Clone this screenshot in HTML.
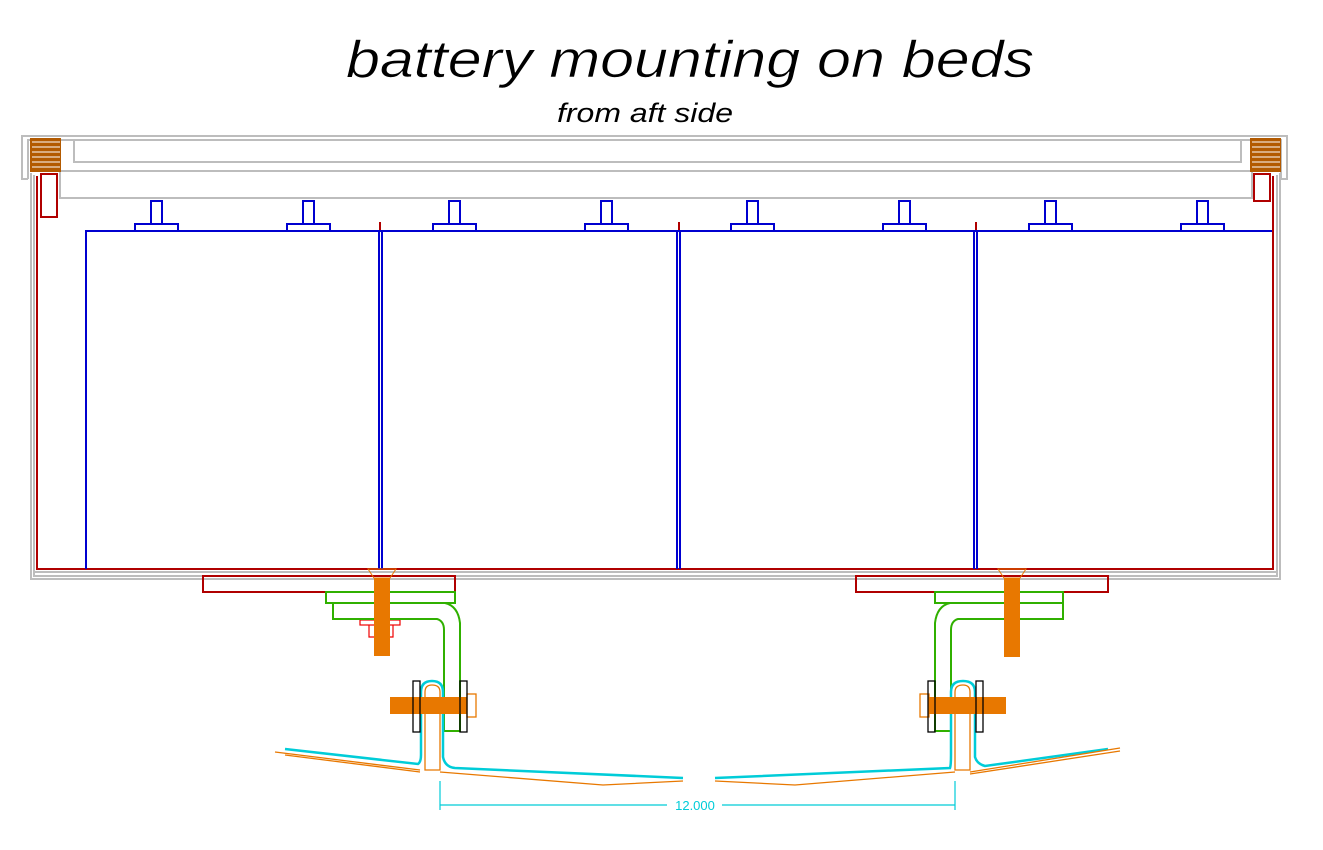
<!DOCTYPE html>
<html><head><meta charset="utf-8"><style>
html,body{margin:0;padding:0;background:#fff;width:1323px;height:850px;overflow:hidden}
svg{display:block}
</style></head><body>
<svg width="1323" height="850" viewBox="0 0 1323 850" xmlns="http://www.w3.org/2000/svg">
<text x="346" y="77" textLength="688" lengthAdjust="spacingAndGlyphs" font-family="Liberation Sans, sans-serif" font-style="italic" font-size="52" fill="#000" stroke="#fff" stroke-width="0.6">battery mounting on beds</text>
<text x="557" y="122" textLength="176" lengthAdjust="spacingAndGlyphs" font-family="Liberation Sans, sans-serif" font-style="italic" font-size="27" fill="#000">from aft side</text>

<g fill="none" stroke="#bdbdbd" stroke-width="2">
<path d="M28,179 H22 V136 H1287 V179 H1280"/>
<path d="M28,179 V140 H1281 V179"/>
<rect x="74" y="140" width="1167" height="22"/>
<line x1="60" y1="171" x2="1252" y2="171"/>
<path d="M60,171 V198 H1252 V171"/>
<path d="M31,173 V579 H1280 V173"/>
<path d="M34,175 V576 H1277 V175"/>
<line x1="34" y1="572" x2="1277" y2="572"/>
</g>

<g fill="#b35a00">
<rect x="30" y="138" width="31" height="34"/>
<rect x="1250" y="138" width="31" height="34"/>
</g>
<g stroke="#fff" stroke-width="1">
<path d="M32,142H60M32,147H60M32,152H60M32,157H60M32,162H60M32,167H60"/>
<path d="M1252,142H1280M1252,147H1280M1252,152H1280M1252,157H1280M1252,162H1280M1252,167H1280"/>
</g>

<g fill="none" stroke="#b00000" stroke-width="2">
<rect x="41" y="174" width="16" height="43"/>
<rect x="1254" y="174" width="16" height="27"/>
<path d="M37,176 V569 H1273 V176"/>
<line x1="380" y1="222" x2="380" y2="232"/>
<line x1="679" y1="222" x2="679" y2="232"/>
<line x1="976" y1="222" x2="976" y2="232"/>
</g>

<g fill="none" stroke="#0000d0" stroke-width="2">
<path d="M86,569 V231 H1272"/>
<path d="M379,231 V569 M382,231 V569 M677,231 V569 M680,231 V569 M974,231 V569 M977,231 V569"/>
<g id="t"><rect x="135" y="224" width="43" height="7"/><rect x="151" y="201" width="11" height="23"/></g>
<use href="#t" x="152"/><use href="#t" x="298"/><use href="#t" x="450"/>
<use href="#t" x="596"/><use href="#t" x="748"/><use href="#t" x="894"/><use href="#t" x="1046"/>
</g>

<!-- left bed -->
<g fill="none" stroke="#b00000" stroke-width="2">
<rect x="203" y="576" width="252" height="16"/>
<rect x="360" y="620" width="40" height="5" stroke="#f00000" stroke-width="1.2"/>
<path d="M369,625 V637 H393 V625" stroke="#f00000" stroke-width="1.2"/>
</g>
<g fill="none" stroke="#30b000" stroke-width="2">
<rect x="326" y="592" width="129" height="11"/>
<path d="M333,603 V619 H437 Q444,621 444,630 V731 H460 V623 Q458,606 445,603"/>
</g>
<rect x="374" y="578" width="16" height="78" fill="#e87800"/>
<path d="M368,569 L396,569 L390,578 L374,578 Z" fill="none" stroke="#e87800" stroke-width="1"/>

<!-- right bed -->
<g fill="none" stroke="#b00000" stroke-width="2"><rect x="856" y="576" width="252" height="16"/></g>
<g fill="none" stroke="#30b000" stroke-width="2">
<rect x="935" y="592" width="128" height="11"/>
<path d="M1063,603 V619 H958 Q951,621 951,630 V731 H935 V623 Q937,606 950,603"/>
</g>
<rect x="1004" y="578" width="16" height="79" fill="#e87800"/>
<path d="M998,569 L1026,569 L1020,578 L1004,578 Z" fill="none" stroke="#e87800" stroke-width="1"/>

<!-- hat channels -->
<g fill="none" stroke="#00ccd8" stroke-width="2.5">
<path d="M285,749 L418,764 Q421,762 421,755 V692 Q421,681 432,681 Q443,681 443,692 V757 Q445,767 455,768 L683,778"/>
<path d="M715,778 L950,768 Q951,765 951,755 V692 Q951,681 963,681 Q975,681 975,692 V757 Q977,764 985,766 L1108,749"/>
</g>
<g fill="none" stroke="#e87800" stroke-width="1.3">
<path d="M275,752 L420,770 M285,755 L420,772"/>
<path d="M425,770 V692 Q425,685 432,685 Q440,685 440,692 V770 Z"/>
<path d="M440,772 L603,785 L683,781"/>
<path d="M715,781 L795,785 L955,772"/>
<path d="M955,770 V692 Q955,685 963,685 Q970,685 970,692 V770 Z"/>
<path d="M970,772 L1120,748 M970,774 L1120,751"/>
<rect x="467" y="694" width="9" height="23"/>
<rect x="920" y="694" width="9" height="23"/>
</g>
<rect x="390" y="697" width="77" height="17" fill="#e87800"/>
<rect x="929" y="697" width="77" height="17" fill="#e87800"/>
<g fill="none" stroke="#000" stroke-width="1.3">
<rect x="413" y="681" width="7" height="51"/><rect x="460" y="681" width="7" height="51"/>
<rect x="928" y="681" width="7" height="51"/><rect x="976" y="681" width="7" height="51"/>
</g>

<!-- dimension -->
<g stroke="#00ccd8" stroke-width="1.2" fill="none">
<line x1="440" y1="781" x2="440" y2="810"/><line x1="955" y1="781" x2="955" y2="810"/>
<line x1="440" y1="805" x2="667" y2="805"/><line x1="722" y1="805" x2="955" y2="805"/>
</g>
<text x="695" y="810" text-anchor="middle" font-family="Liberation Sans, sans-serif" font-size="13" fill="#00ccd8">12.000</text>
</svg>
</body></html>
